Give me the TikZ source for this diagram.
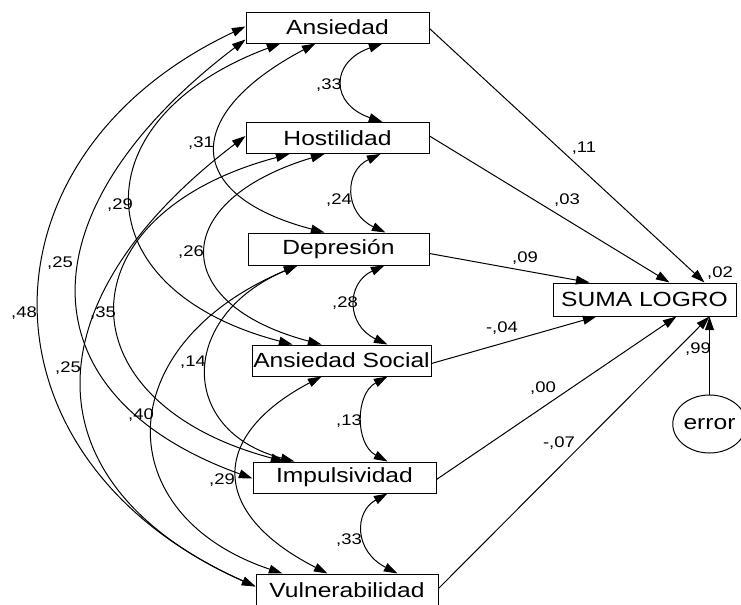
\documentclass[tikz,border=0pt]{standalone}
\usepackage{fontspec}
\setmainfont{Liberation Sans}[FakeStretch=1.2]
\usetikzlibrary{arrows.meta,calc,shapes.geometric}

\tikzset{
  varbox/.style={draw=black, line width=0.5pt, rectangle, inner sep=0pt,
    minimum height=15.5pt, font=\fontsize{10.25pt}{12pt}\selectfont},
  errnode/.style={draw=black, line width=0.5pt, ellipse, inner sep=0pt,
    minimum width=31pt, minimum height=29pt, font=\fontsize{10.25pt}{12pt}\selectfont},
  coef/.style={inner sep=0pt, font=\fontsize{7.7pt}{9pt}\selectfont},
  cov/.style={line width=0.5pt,
    {Triangle[length=6.8pt,width=4.4pt]}-{Triangle[length=6.8pt,width=4.4pt]}},
  reg/.style={line width=0.5pt, -{Triangle[length=6.8pt,width=4.4pt]}},
}

\begin{document}
\begin{tikzpicture}[x=0.5pt, y=-0.5pt]
\useasboundingbox (0,0) rectangle (741,605);

% observed variables
\node[varbox, minimum width=91.5pt] (A)  at (337.5,27.5)  {Ansiedad};
\node[varbox, minimum width=91.5pt] (H)  at (337.5,138)   {Hostilidad};
\node[varbox, minimum width=90.5pt, minimum height=16pt] (D) at (338.5,249) {Depresión};
\node[varbox, minimum width=89.5pt] (AS) at (341.5,360.5) {Ansiedad Social};
\node[varbox, minimum width=91.5pt] (I)  at (344.5,477.5) {Impulsividad};
\node[varbox, minimum width=91pt, minimum height=16pt] (V) at (347,590) {Vulnerabilidad};
\node[varbox, minimum width=91.5pt, minimum height=16.5pt] (L) at (644.5,299.5) {SUMA LOGRO};
\node[errnode] (E) at (709.5,424) {error};

% attachment points on the boxes
\coordinate (Al1) at ($(A.north west)+(0,15)$);
\coordinate (Al2) at ($(A.north west)+(0,28)$);
\coordinate (Ab1) at ($(A.south west)+(35,0)$);
\coordinate (Ab2) at ($(A.south west)+(70,0)$);
\coordinate (Ab3) at ($(A.south west)+(137,0)$);
\coordinate (Ar)  at ($(A.north east)+(0,17)$);

\coordinate (Hl)  at ($(H.north west)+(0,14)$);
\coordinate (Ht)  at ($(H.north west)+(137,0)$);
\coordinate (Hb1) at ($(H.south west)+(44,0)$);
\coordinate (Hb2) at ($(H.south west)+(79,0)$);
\coordinate (Hb3) at ($(H.south west)+(135,0)$);
\coordinate (Hr)  at ($(H.north east)+(0,14)$);

\coordinate (Dt1) at ($(D.north west)+(77,0)$);
\coordinate (Dt2) at ($(D.north west)+(138,0)$);
\coordinate (Db1) at ($(D.south west)+(50,0)$);
\coordinate (Db2) at ($(D.south west)+(137,0)$);
\coordinate (Dr)  at ($(D.north east)+(0,21)$);

\coordinate (ASt1) at ($(AS.north west)+(41,0)$);
\coordinate (ASt2) at ($(AS.north west)+(70,0)$);
\coordinate (ASt3) at ($(AS.north west)+(136,0)$);
\coordinate (ASb1) at ($(AS.south west)+(70,0)$);
\coordinate (ASb2) at ($(AS.south west)+(136,0)$);
\coordinate (ASr)  at ($(AS.north east)+(0,19)$);

\coordinate (Il)  at ($(I.north west)+(0,17)$);
\coordinate (It1) at ($(I.north west)+(32,0)$);
\coordinate (It2) at ($(I.north west)+(42,0)$);
\coordinate (It3) at ($(I.north west)+(135,0)$);
\coordinate (Ib)  at ($(I.south west)+(135,0)$);
\coordinate (Ir)  at ($(I.north east)+(0,18)$);

\coordinate (Vl)  at ($(V.north west)+(0,13)$);
\coordinate (Vt1) at ($(V.north west)+(27,0)$);
\coordinate (Vt2) at ($(V.north west)+(72,0)$);
\coordinate (Vt3) at ($(V.north west)+(142,0)$);
\coordinate (Vr)  at ($(V.north east)+(0,15)$);

\coordinate (Lt1) at ($(L.north west)+(37,0)$);
\coordinate (Lt2) at ($(L.north west)+(117,0)$);
\coordinate (Lt3) at ($(L.north west)+(152,0)$);
\coordinate (Lb1) at ($(L.south west)+(44,0)$);
\coordinate (Lb2) at ($(L.south west)+(124,0)$);
\coordinate (Lb3) at ($(L.south west)+(157,0)$);

% covariances between neighbouring predictors
\draw[cov] (Ab3)  .. controls (330,62)  and (330,104) .. (Ht);
\draw[cov] (Hb3)  .. controls (344,171) and (344,213) .. (Dt2);
\draw[cov] (Db2)  .. controls (346,283) and (346,325) .. (ASt3);
\draw[cov] (ASb2) .. controls (355,394) and (355,444) .. (It3);
\draw[cov] (Ib)   .. controls (354,512) and (354,551) .. (Vt3);

% covariances two steps apart
\draw[cov] (Ab2)  .. controls (182,114) and (182,195) .. (Dt1);
\draw[cov] (Hb2)  .. controls (168,201) and (168,304) .. (ASt2);
\draw[cov] (Db1)  .. controls (178,316) and (178,431) .. (It2);
\draw[cov] (ASb1) .. controls (209,436) and (209,513) .. (Vt2);

% covariances three steps apart
\draw[cov] (Ab1)  .. controls (80,118)  and (80,289)  .. (ASt1);
\draw[cov] (Hb1)  .. controls (60,215)  and (60,402)  .. (It1);
\draw[cov] (Db1)  .. controls (108,345) and (108,515) .. (Vt1);

% outer covariances
\draw[cov] (Al2)  .. controls (21,210)  and (21,395)  .. (Il);
\draw[cov] (Hl)   .. controls (27,302)  and (27,485)  .. (Vl);
\draw[cov] (Al1)  .. controls (-30,156) and (-30,460) .. (Vl);

% regression paths
\draw[reg] (Ar)  -- (Lt3);
\draw[reg] (Hr)  -- (Lt2);
\draw[reg] (Dr)  -- (Lt1);
\draw[reg] (ASr) -- (Lb1);
\draw[reg] (Ir)  -- (Lb2);
\draw[reg] (Vr)  -- (Lb3);
\draw[reg] (E.north) -- (E.north |- L.south);

% covariance estimates
\node[coef] (c1)  at (329,85)  {,33};
\node[coef] (c2)  at (339,200) {,24};
\node[coef] (c3)  at (345,303) {,28};
\node[coef] (c4)  at (349,421) {,13};
\node[coef] (c5)  at (349,540) {,33};
\node[coef] (c6)  at (201,143) {,31};
\node[coef] (c7)  at (191,252) {,26};
\node[coef] (c8)  at (193,362) {,14};
\node[coef] (c9)  at (222,480) {,29};
\node[coef] (c10) at (120,205) {,29};
\node[coef] (c11) at (103,313) {,35};
\node[coef] (c12) at (141,415) {,40};
\node[coef] (c13) at (60,263)  {,25};
\node[coef] (c14) at (68,368)  {,25};
\node[coef] (c15) at (24,313)  {,48};

% path coefficients
\node[coef] (p1) at (584,148) {,11};
\node[coef] (p2) at (567,200) {,03};
\node[coef] (p3) at (525,258) {,09};
\node[coef] (p4) at (502,328) {-,04};
\node[coef] (p5) at (543,388) {,00};
\node[coef] (p6) at (559,443) {-,07};
\node[coef] (r2) at (720,273) {,02};
\node[coef] (ew) at (698,349) {,99};
\end{tikzpicture}
\end{document}
